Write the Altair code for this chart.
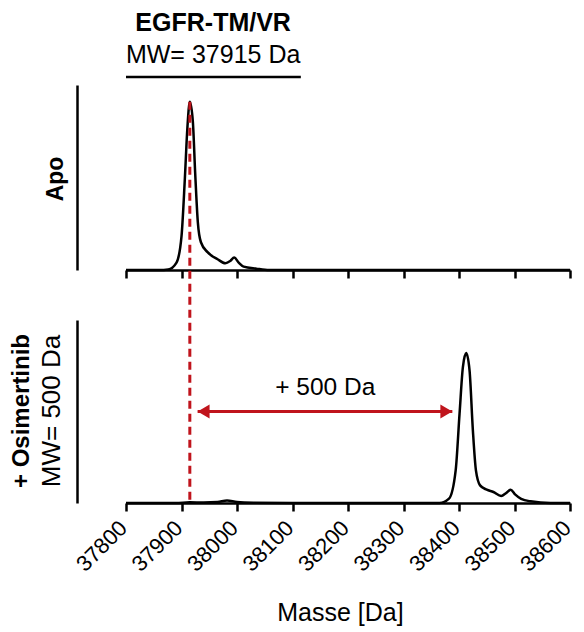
import altair as alt
import pandas as pd

# ---- data ----
top_mass = [37800, 37860, 37876, 37891, 37900, 37906, 37910.5, 37915, 37920.5, 37924.6,
            37929.4, 37935, 37947, 37965, 37979, 37988, 37995, 38003, 38012, 38035, 38058, 38600]
top_int = [0, 0, 0.3, 4.4, 20, 54, 84, 100, 88, 58,
           28.5, 16.5, 10.6, 6.4, 4, 5.4, 7.4, 4.4, 2, 0.8, 0, 0]

bot_mass = [37800, 37890, 37915, 37940, 37965, 37982, 38000, 38030, 38100, 38365,
            38382, 38394, 38401, 38407, 38413, 38419, 38425, 38430.5, 38438, 38450,
            38462, 38476, 38485, 38493, 38501, 38512, 38529, 38565, 38600]
bot_int = [0, 0, 0.4, 0.3, 0.6, 1.5, 0.6, 0.2, 0, 0,
           2.6, 19.6, 53.7, 81.7, 90.1, 79.7, 43.7, 19.6, 10.6, 8,
           6.6, 4.2, 6, 8, 5.2, 2.5, 1, 0, 0]

x_ticks = [37800, 37900, 38000, 38100, 38200, 38300, 38400, 38500, 38600]

ref_mass = [37915]
ref_peak = [100]

arrow_start = [37929]
arrow_end = [38388]
arrow_level = [55]
shift_label = ["+ 500 Da"]
shift_label_mass = [38159]
shift_label_level = [69]

title_main = ["EGFR-TM/VR"]
title_sub = ["MW= 37915 Da"]
title_center = [37957]
title_bar = [37800, 38115]

apo_label = ["Apo"]
osi_label = ["+ Osimertinib"]
osi_sub = ["MW= 500 Da"]

# ---- style ----
RED = "#c0141c"
FONT = "Liberation Sans"
W = 444
H_TOP = 185
H_BOT = 183
GAP = 50

xscale = alt.Scale(domain=[37800, 38600], nice=False, zero=False)
yscale = alt.Scale(domain=[0, 110], nice=False)

y_axis = alt.Axis(labels=False, ticks=False, title=None, grid=False,
                  domainColor="black", domainWidth=2.5, offset=49)

common_x_axis = dict(values=x_ticks, grid=False, tickSize=8, tickWidth=2.5,
                     tickColor="black", domainColor="black", domainWidth=2.5)

# ---- top panel ----
top_df = pd.DataFrame({"mass": top_mass, "intensity": top_int})
top_line = alt.Chart(top_df).mark_line(
    color="black", strokeWidth=2.5, interpolate="monotone"
).encode(
    x=alt.X("mass:Q", scale=xscale,
            axis=alt.Axis(labels=False, title=None, **common_x_axis)),
    y=alt.Y("intensity:Q", scale=yscale, axis=y_axis),
)

ref_df = pd.DataFrame({"mass": ref_mass, "intensity": ref_peak})
ref_rule = alt.Chart(ref_df).mark_rule(
    color=RED, strokeWidth=3, strokeDash=[8, 5]
).encode(
    x="mass:Q",
    y="intensity:Q",
    y2=alt.value(H_TOP + GAP + H_BOT),
)

bar_df = pd.DataFrame({"start": [title_bar[0]], "end": [title_bar[1]]})
title_rule = alt.Chart(bar_df).mark_rule(color="black", strokeWidth=2.5).encode(
    x="start:Q", x2="end:Q", y=alt.value(-8)
)

t1 = alt.Chart(pd.DataFrame({"t": title_main, "mass": title_center})).mark_text(
    font=FONT, fontSize=25, fontWeight="bold", color="black"
).encode(text="t:N", x="mass:Q", y=alt.value(-62))

t2 = alt.Chart(pd.DataFrame({"t": title_sub, "mass": title_center})).mark_text(
    font=FONT, fontSize=25, color="black"
).encode(text="t:N", x="mass:Q", y=alt.value(-30))

apo = alt.Chart(pd.DataFrame({"t": apo_label})).mark_text(
    font=FONT, fontSize=23, fontWeight="bold", color="black", angle=270
).encode(text="t:N", x=alt.value(-70), y=alt.value(94))

top = alt.layer(top_line, ref_rule, title_rule, t1, t2, apo).properties(
    width=W, height=H_TOP
)

# ---- bottom panel ----
bot_df = pd.DataFrame({"mass": bot_mass, "intensity": bot_int})
bot_line = alt.Chart(bot_df).mark_line(
    color="black", strokeWidth=2.5, interpolate="monotone"
).encode(
    x=alt.X("mass:Q", scale=xscale,
            axis=alt.Axis(labelAngle=315, labelFontSize=22, labelPadding=6,
                          labelOffset=-10,
                          labelFont=FONT, labelColor="black", format="d",
                          labelOverlap=False, labelFlush=False,
                          title="Masse [Da]", titleFontSize=25, titleFont=FONT,
                          titleFontWeight="normal", titleColor="black",
                          titleX=214, titleAlign="center",
                          titlePadding=25, **common_x_axis)),
    y=alt.Y("intensity:Q", scale=yscale, axis=y_axis),
)

arrow_df = pd.DataFrame({"start": arrow_start, "end": arrow_end, "level": arrow_level})
arrow_line = alt.Chart(arrow_df).mark_rule(color=RED, strokeWidth=3).encode(
    x=alt.X("start:Q"), x2="end:Q", y=alt.Y("level:Q")
)
head_left = alt.Chart(arrow_df).mark_point(
    shape="triangle-left", filled=True, color=RED, size=190, opacity=1
).encode(x="start:Q", y="level:Q", xOffset=alt.value(6))
head_right = alt.Chart(arrow_df).mark_point(
    shape="triangle-right", filled=True, color=RED, size=190, opacity=1
).encode(x="end:Q", y="level:Q", xOffset=alt.value(-6))

shift_df = pd.DataFrame({"t": shift_label, "mass": shift_label_mass, "level": shift_label_level})
shift_text = alt.Chart(shift_df).mark_text(
    font=FONT, fontSize=24.5, color="black"
).encode(text="t:N", x="mass:Q", y="level:Q")

osi = alt.Chart(pd.DataFrame({"t": osi_label})).mark_text(
    font=FONT, fontSize=24, fontWeight="bold", color="black", angle=270
).encode(text="t:N", x=alt.value(-104), y=alt.value(91))

osi2 = alt.Chart(pd.DataFrame({"t": osi_sub})).mark_text(
    font=FONT, fontSize=26, color="black", angle=270
).encode(text="t:N", x=alt.value(-74), y=alt.value(91))

bottom = alt.layer(bot_line, arrow_line, head_left, head_right, shift_text, osi, osi2).properties(
    width=W, height=H_BOT
)

chart = alt.vconcat(top, bottom, spacing=GAP, bounds="flush").properties(
    padding={"left": 2, "top": 3, "right": 0, "bottom": 0}
).configure_view(stroke=None).configure_text(font=FONT)

chart.save("out.html", embed_options={"renderer": "svg", "actions": False})
